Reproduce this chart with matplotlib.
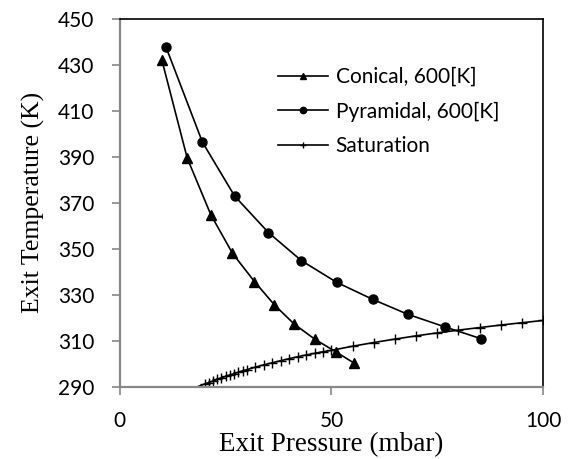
import matplotlib
matplotlib.use("Agg")
import matplotlib.pyplot as plt

# data
cone_p = [9.9, 15.9, 21.5, 26.6, 31.8, 36.5, 41.2, 46.1, 51.0, 55.4]
cone_t = [432.2, 389.5, 364.8, 348.1, 335.8, 325.7, 317.3, 310.7, 305.3, 300.3]

pyr_p = [10.9, 19.5, 27.1, 35.1, 42.9, 51.2, 59.7, 68.0, 76.8, 85.3]
pyr_t = [437.7, 396.4, 373.0, 357.1, 344.9, 335.5, 328.1, 321.6, 316.1, 311.0]

sat_p = [15, 20, 21, 22, 23, 24, 25, 26, 27, 28, 29, 30,
         32, 34, 36, 38, 40, 42, 44, 46, 48, 50,
         55, 60, 65, 70, 75, 80, 85, 90, 95, 100]
sat_t = [287.6, 291.3, 291.9, 292.6, 293.3, 294.0, 294.6, 295.2, 295.8, 296.4, 297.0, 297.5,
         298.6, 299.6, 300.5, 301.4, 302.3, 303.1, 303.9, 304.6, 305.3, 305.9,
         307.7, 309.3, 310.8, 312.2, 313.5, 314.7, 315.8, 316.9, 317.9, 318.9]

fig = plt.figure(figsize=(5.71, 4.59), dpi=100)
ax = fig.add_axes([0.210, 0.157, 0.741, 0.802])

ax.plot(cone_p, cone_t, color='black', lw=1.2, marker='^', ms=6.5, label='Conical, 600[K]')
ax.plot(pyr_p, pyr_t, color='black', lw=1.2, marker='o', ms=6.5, label='Pyramidal, 600[K]')
ax.plot(sat_p, sat_t, color='black', lw=1.2, marker='+', ms=7, mew=1.0, label='Saturation')

ax.set_xlim(0, 100)
ax.set_ylim(290, 450)
ax.set_xticks([0, 50, 100])
ax.set_yticks(range(290, 451, 20))

for s in ['left', 'bottom']:
    ax.spines[s].set_color('#888888')
    ax.spines[s].set_linewidth(1.6)
for s in ['top', 'right']:
    ax.spines[s].set_color('black')
    ax.spines[s].set_linewidth(1.2)

ax.tick_params(direction='out', length=5.5, width=1.2, color='#888888',
               labelsize=15, pad=13)
ax.tick_params(axis='x', pad=11.5)
for lab in ax.get_xticklabels() + ax.get_yticklabels():
    lab.set_family('Lato')

ax.set_xlabel('Exit Pressure (mbar)', family='Liberation Serif', fontsize=19.5, labelpad=1)
ax.set_ylabel('Exit Temperature (K)', family='Liberation Serif', fontsize=18.5, labelpad=9)

leg = ax.legend(loc='upper left', bbox_to_anchor=(0.33, 0.92), frameon=False,
                prop={'family': 'Lato', 'size': 15}, handlelength=2.4,
                handletextpad=0.35, labelspacing=0.7, markerscale=0.7)

fig.savefig('out.png', dpi=100)
